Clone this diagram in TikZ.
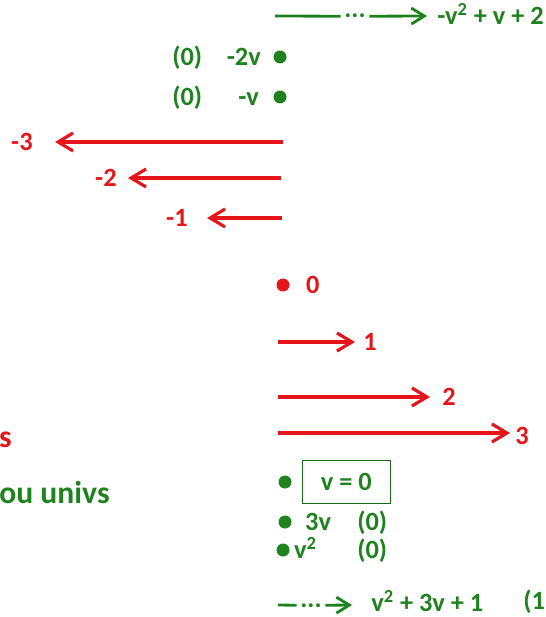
\documentclass[tikz,border=0pt]{standalone}
\usepackage{fontspec}
\setmainfont{Carlito}
\usetikzlibrary{arrows.meta, positioning}
\definecolor{valgreen}{RGB}{30,130,30}
\definecolor{valred}{RGB}{228,22,28}

\begin{document}
\begin{tikzpicture}[
  x=0.02cm, y=-0.02cm,
  node distance=0.2cm,
  lbl/.style={inner sep=0pt, text height=0.34cm, text depth=0pt, font=\fontsize{15}{18}\selectfont\bfseries},
  redlbl/.style={lbl, text=valred},
  grnlbl/.style={lbl, text=valgreen},
  caption/.style={font=\fontsize{18}{21}\selectfont\bfseries, text height=0.4cm},
  reddot/.style={circle, fill=valred, inner sep=0pt, minimum size=0.26cm},
  grndot/.style={circle, fill=valgreen, inner sep=0pt, minimum size=0.26cm},
  redarr/.style={-{Straight Barb[length=3mm, width=3.6mm]}, valred, line width=1.8pt},
  grnarr/.style={-{Straight Barb[length=2.6mm, width=3.2mm]}, valgreen, line width=1.6pt},
  grnline/.style={valgreen, line width=1.6pt},
  valbox/.style={draw=valgreen!80!black, line width=0.6pt, minimum width=1.76cm, minimum height=0.86cm, inner sep=0pt}
]
\useasboundingbox (0,0) rectangle (545,617);

% top: negative values of v
\coordinate (ts) at (275,16);
\node[grnlbl, anchor=base, text height=, text depth=] (tdots) at (355,18) {...};
\coordinate (tt) at (427,16);
\node[grnlbl, right=0.2cm of tt] (tpoly) {-v\textsuperscript{2} + v + 2};
\draw[grnline] (ts) -- ([xshift=-2pt]tdots.west);
\draw[grnarr] ([xshift=2pt]tdots.east) -- (tt);

\node[grndot] (dm2v) at (280,57) {};
\node[grnlbl, left=0.24cm of dm2v] (m2v) {-2v};
\node[grnlbl, anchor=west] (z1) at (172,57) {(0)};
\node[grndot] (dmv) at (280,97) {};
\node[grnlbl, left=0.28cm of dmv] (mv) {-v};
\node[grnlbl, anchor=west] (z2) at (172,97) {(0)};

% red arrows to the left
\coordinate (m3s) at (283,142);
\coordinate (m3t) at (55,142);
\node[redlbl, left=0.44cm of m3t] (m3) {-3};
\draw[redarr] (m3s) -- (m3t);

\coordinate (m2s) at (281,178);
\coordinate (m2t) at (128,178);
\node[redlbl, left=0.22cm of m2t] (m2) {-2};
\draw[redarr] (m2s) -- (m2t);

\coordinate (m1s) at (282,218);
\coordinate (m1t) at (207,218);
\node[redlbl, left=0.38cm of m1t] (m1) {-1};
\draw[redarr] (m1s) -- (m1t);

% zero
\node[reddot] (d0) at (283,285) {};
\node[redlbl, right=0.32cm of d0] (n0) {0};

% red arrows to the right
\coordinate (p1s) at (278,342);
\coordinate (p1t) at (355,342);
\node[redlbl, right=0.16cm of p1t] (p1) {1};
\draw[redarr] (p1s) -- (p1t);

\coordinate (p2s) at (278,397);
\coordinate (p2t) at (430,397);
\node[redlbl, right=0.24cm of p2t] (p2) {2};
\draw[redarr] (p2s) -- (p2t);

\coordinate (p3s) at (278,433);
\coordinate (p3t) at (510,433);
\node[redlbl, right=0.1cm of p3t, yshift=-0.06cm] (p3) {3};
\draw[redarr] (p3s) -- (p3t);

% cut-off captions on the left
\node[redlbl, caption, anchor=east] (capr) at (12,437) {s};
\node[grnlbl, caption, anchor=east] (capg) at (110,493) {ou univs};

% bottom: positive values of v
\node[grndot] (dv0) at (285,482) {};
\node[valbox, right=0.2cm of dv0] (v0) {\bfseries\fontsize{15}{18}\selectfont\color{valgreen}v = 0};
\node[grndot] (d3v) at (285,522) {};
\node[grnlbl, right=0.26cm of d3v] (t3v) {3v};
\node[grnlbl, anchor=west] (z3) at (357,522) {(0)};
\node[grndot] (dvv) at (283,550) {};
\node[grnlbl, right=0.08cm of dvv] (tvv) {v\textsuperscript{2}};
\node[grnlbl, anchor=west] (z4) at (357,550) {(0)};

\coordinate (bs) at (278,605);
\node[grnlbl, anchor=base, text height=, text depth=] (bdots) at (311,607) {...};
\coordinate (bt) at (352,605);
\node[grnlbl, right=0.38cm of bt, yshift=0.04cm] (bpoly) {v\textsuperscript{2} + 3v + 1};
\node[grnlbl, anchor=west] (one) at (523,601) {(1};
\draw[grnline] (bs) -- ([xshift=-2pt]bdots.west);
\draw[grnarr] ([xshift=2pt]bdots.east) -- (bt);
\end{tikzpicture}
\end{document}
